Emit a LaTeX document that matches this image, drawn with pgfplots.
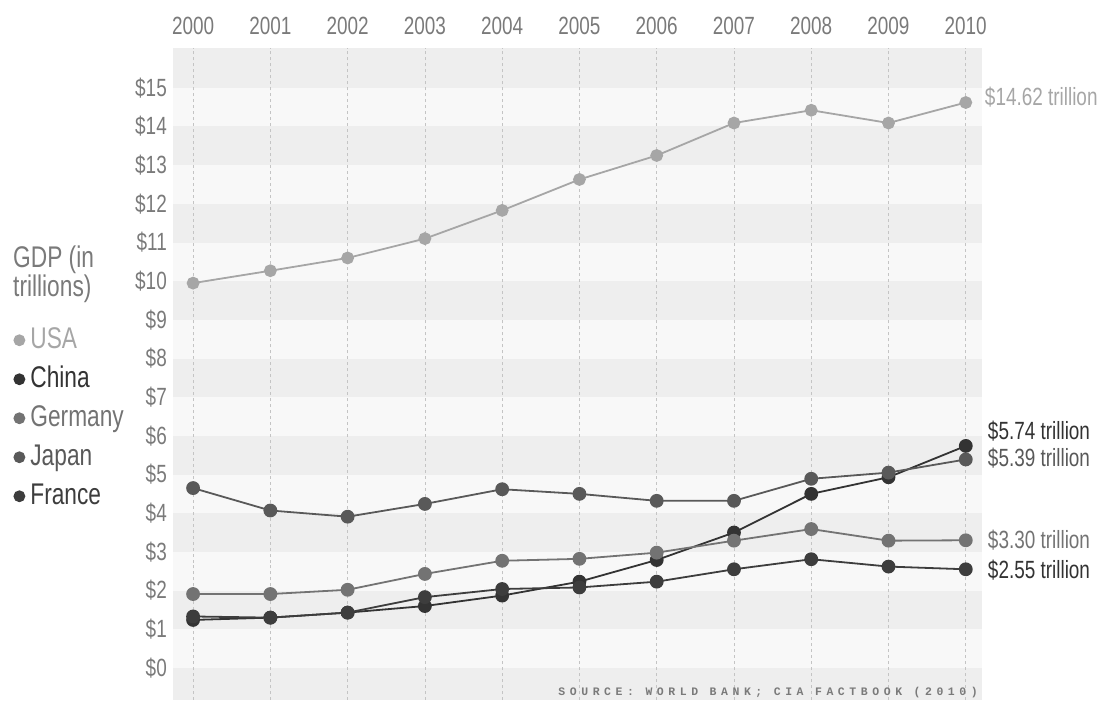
\documentclass[border=0pt]{standalone}
\usepackage{fontspec}
\setmainfont{Liberation Sans}[FakeStretch=0.76]
\newfontfamily\srcfont{Liberation Mono}[LetterSpace=40]
\usepackage{pgfplots}
\pgfplotsset{compat=1.18}

\definecolor{bandA}{HTML}{EEEEEE}
\definecolor{bandB}{HTML}{F8F8F8}
\definecolor{tickgray}{HTML}{7A7A7A}
\definecolor{gridgray}{HTML}{C4C4C4}
\definecolor{cUSA}{HTML}{A6A6A6}
\definecolor{cChina}{HTML}{333333}
\definecolor{cGermany}{HTML}{737373}
\definecolor{cJapan}{HTML}{595959}
\definecolor{cFrance}{HTML}{3D3D3D}

\newcommand{\lblfont}{\fontsize{25}{25}\selectfont}
\newcommand{\legfont}{\fontsize{30}{30}\selectfont}

\begin{document}
\begin{tikzpicture}
\begin{axis}[
    set layers,
    scale only axis,
    width=809bp, height=652bp,
    xmin=1999.74, xmax=2010.21,
    ymin=-0.83, ymax=16.03,
    axis line style={draw=none},
    major tick length=0pt,
    xtick={2000,...,2010},
    xticklabels={2000,2001,2002,2003,2004,2005,2006,2007,2008,2009,2010},
    xticklabel pos=upper,
    ytick={0,...,15},
    yticklabels={\$0,\$1,\$2,\$3,\$4,\$5,\$6,\$7,\$8,\$9,\$10,\$11,\$12,\$13,\$14,\$15},
    xmajorgrids,
    grid style={dashed, gridgray, line width=0.6bp},
    axis background/.style={fill=bandB},
    tick label style={font=\lblfont, text=tickgray, inner sep=0pt},
    xticklabel style={yshift=13bp},
    yticklabel style={xshift=-6bp},
    clip=false,
    every axis plot/.append style={line width=1.8bp, mark=*, mark size=6bp},
    legend style={at={(-0.2,0.585)}, anchor=north west, draw=none, fill=none,
        font=\legfont, row sep=0pt, column sep=4bp,
        nodes={inner sep=2bp, text height=26bp, text depth=9bp},
        cells={anchor=west}},
    legend image code/.code={\draw[only marks, mark size=5bp] plot coordinates {(0.1cm,0cm)};},
]
\begin{pgfonlayer}{axis background}
\fill[bandA] (axis cs:1999.74,-0.83) rectangle (axis cs:2010.21,0);
\pgfplotsinvokeforeach{1,3,5,7,9,11,13}{
  \fill[bandA] (axis cs:1999.74,#1) rectangle (axis cs:2010.21,#1+1);
}
\fill[bandA] (axis cs:1999.74,15) rectangle (axis cs:2010.21,16.03);
\end{pgfonlayer}

% USA
\addplot[color=cUSA, mark size=5.5bp] coordinates {
(2000,9.95) (2001,10.27) (2002,10.6) (2003,11.1) (2004,11.83) (2005,12.63)
(2006,13.25) (2007,14.09) (2008,14.42) (2009,14.09) (2010,14.62)};
\addlegendentry{\textcolor{cUSA}{USA}}
% China
\addplot[color=cChina] coordinates {
(2000,1.24) (2001,1.3) (2002,1.43) (2003,1.6) (2004,1.87) (2005,2.23)
(2006,2.79) (2007,3.5) (2008,4.5) (2009,4.93) (2010,5.74)};
\addlegendentry{\textcolor{cChina}{China}}
% Germany
\addplot[color=cGermany] coordinates {
(2000,1.91) (2001,1.91) (2002,2.02) (2003,2.43) (2004,2.77) (2005,2.82)
(2006,2.98) (2007,3.29) (2008,3.59) (2009,3.29) (2010,3.30)};
\addlegendentry{\textcolor{cGermany}{Germany}}
% Japan
\addplot[color=cJapan] coordinates {
(2000,4.65) (2001,4.07) (2002,3.91) (2003,4.24) (2004,4.62) (2005,4.50)
(2006,4.32) (2007,4.32) (2008,4.89) (2009,5.05) (2010,5.39)};
\addlegendentry{\textcolor{cJapan}{Japan}}
% France
\addplot[color=cFrance] coordinates {
(2000,1.33) (2001,1.3) (2002,1.43) (2003,1.83) (2004,2.04) (2005,2.08)
(2006,2.23) (2007,2.55) (2008,2.81) (2009,2.62) (2010,2.55)};
\addlegendentry{\textcolor{cFrance}{France}}

\node[anchor=base west, inner sep=0pt, font=\lblfont, text=cUSA, xshift=19bp] at (axis cs:2010,14.53) {\$14.62 trillion};
\node[anchor=base west, inner sep=0pt, font=\lblfont, text=cChina, xshift=22bp] at (axis cs:2010,5.91) {\$5.74 trillion};
\node[anchor=base west, inner sep=0pt, font=\lblfont, text=cJapan, xshift=22bp] at (axis cs:2010,5.21) {\$5.39 trillion};
\node[anchor=base west, inner sep=0pt, font=\lblfont, text=cGermany, xshift=22bp] at (axis cs:2010,3.10) {\$3.30 trillion};
\node[anchor=base west, inner sep=0pt, font=\lblfont, text=cChina, xshift=22bp] at (axis cs:2010,2.32) {\$2.55 trillion};
\end{axis}

\begin{scope}[shift={(current axis.south west)}, x=1bp, y=1bp]
\node[anchor=base west, inner sep=0pt, font=\legfont, text=tickgray] at (13-173,700-268) {GDP (in};
\node[anchor=base west, inner sep=0pt, font=\legfont, text=tickgray] at (13-173,700-297) {trillions)};
\node[anchor=base east, inner sep=0pt, font=\srcfont\bfseries\fontsize{11.5}{11.5}\selectfont, text=tickgray] at (978-173,700-696) {SOURCE: WORLD BANK; CIA FACTBOOK (2010)};
\path (-173,-2) rectangle (932,700);
\end{scope}
\end{tikzpicture}
\end{document}
